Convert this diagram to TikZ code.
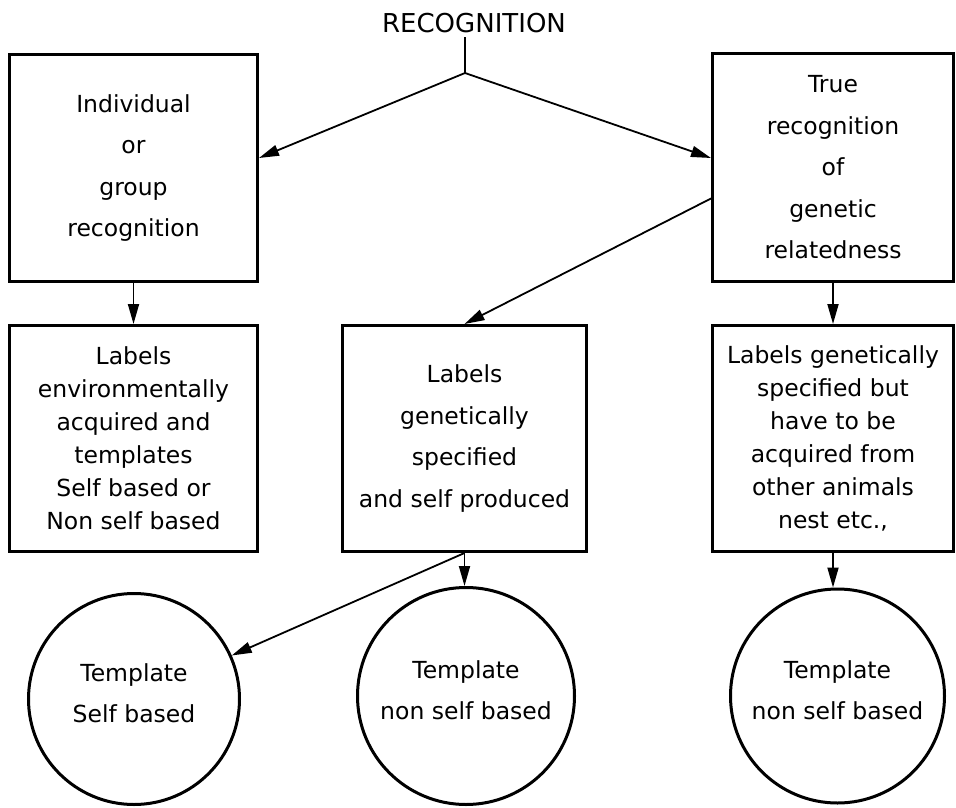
\documentclass[tikz,border=0pt]{standalone}
\usepackage{fontspec}
\setmainfont{DejaVu Sans}
\usetikzlibrary{arrows.meta}

\begin{document}
\begin{tikzpicture}[x=1pt,y=-1pt]
    \tikzset{box/.style={draw, line width=3pt, align=center, inner sep=0pt, font=\fontsize{23.5}{41.5}\selectfont},
             tight/.style={font=\fontsize{23.5}{33}\selectfont},
             circ/.style={draw, circle, line width=3pt, align=center, inner sep=0pt, font=\fontsize{23.5}{41}\selectfont},
             arr/.style={line width=1.8pt, -{Triangle[length=20pt,width=11pt]}}}
    \useasboundingbox (0,0) rectangle (956,808);

    % title and fork
    \node[font=\fontsize{26}{30}\selectfont, inner sep=4pt] (title) at (474,23) {RECOGNITION};
    \coordinate (fork) at (465,73);

    % first row
    \node[box, minimum width=248pt, minimum height=227pt] (indiv) at (133.5,168) {Individual\\or\\group\\recognition};
    \node[box, minimum width=241pt, minimum height=228pt] (true) at (833,167.5) {True\\recognition\\of\\genetic\\relatedness};

    % second row
    \node[box, tight, minimum width=248pt, minimum height=226pt] (envlab) at (133.5,438.5) {Labels\\environmentally\\acquired and\\templates\\Self based or\\Non self based};
    \node[box, minimum width=244pt, minimum height=226pt] (selflab) at (464.5,438.5) {Labels\\genetically\\specified\\and self produced};
    \node[box, tight, minimum width=241pt, minimum height=226pt] (acqlab) at (833,438.5) {Labels genetically\\specified but\\have to be\\acquired from\\other animals\\nest etc.,};

    % templates
    \node[circ, minimum size=211pt] (tself) at (134,699) {Template\\Self based\\[-29pt]};
    \node[circ, minimum size=217pt] (tnon) at (466,696) {Template\\non self based\\[-29pt]};
    \node[circ, minimum size=214pt] (tnonb) at (837.5,696) {Template\\non self based\\[-29pt]};

    % connectors
    \draw[line width=1.8pt] (title.south -| fork) -- (fork);
    \draw[arr] (fork) -- ([yshift=10pt]indiv.east);
    \draw[arr] (fork) -- ([yshift=9.5pt]true.west);
    \draw[arr] ([yshift=-31pt]true.west) -- (selflab.north);
    \draw[arr] (indiv.south) -- (envlab.north);
    \draw[arr] (true.south) -- (acqlab.north);
    \draw[arr] (selflab.south) -- (selflab.south |- tnon.north);
    \draw[arr] (selflab.south) -- (tself.24);
    \draw[arr] (acqlab.south) -- (acqlab.south |- tnonb.north);
\end{tikzpicture}
\end{document}
